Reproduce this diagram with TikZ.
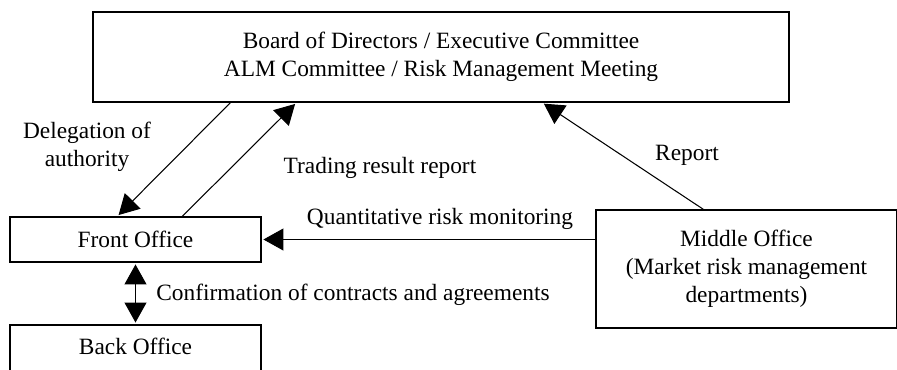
\documentclass[tikz,border=0pt]{standalone}
\usepackage{fontspec}
\setmainfont{Liberation Serif}
\usetikzlibrary{positioning,calc,arrows.meta}

\begin{document}
\begin{tikzpicture}[x=0.02cm, y=-0.02cm, shorten >=1pt, node distance=2.16cm, line width=0.6pt,
    >={Triangle[length=0.4cm,width=0.44cm]}]
   \tikzstyle{every node} = [font=\fontsize{13.3}{16}\selectfont, align=center];
   \tikzstyle{box} = [rectangle, draw, line width=0.8pt, inner sep=0pt];
   \useasboundingbox (0,0) rectangle (897,369);
   \node[box, minimum width=13.92cm, minimum height=1.8cm] (bd) at (441,57)
      {Board of Directors / Executive Committee\\ALM Committee / Risk Management Meeting};
   \node[box, minimum width=5.02cm, minimum height=0.9cm] (fo) at (135.5,239.5) {Front Office};
   \node[box, minimum width=5.02cm, minimum height=1.1cm, text height=0.32cm, text depth=0.23cm]
      (bo) [below of = fo, node distance=2.26cm] {Back Office};
   \node[box, minimum width=6.02cm, minimum height=2.36cm] (mo) at (746.5,269)
      {Middle Office\\(Market risk management\\departments)};
   \node (dl) at (87,147) {Delegation of\\authority};
   \node (tr) at (380,168) {Trading result report};
   \node (rp) at (687,155) {Report};
   \node (qr) at (440,219) {Quantitative risk monitoring};
   \node (cf) at (353,295) {Confirmation of contracts and agreements};
   \path[->] ($(bd.south west)+(138,0)$) edge ($(fo.north west)+(108,0)$);
   \path[->] ($(fo.north west)+(173,0)$) edge ($(bd.south west)+(204,0)$);
   \path[->] ($(mo.north west)+(108,0)$) edge ($(bd.south west)+(450,0)$);
   \path[->] (mo.west |- fo.east) edge (fo.east);
   \path[<->, shorten <=1pt] (fo) edge (bo);
\end{tikzpicture}
\end{document}
